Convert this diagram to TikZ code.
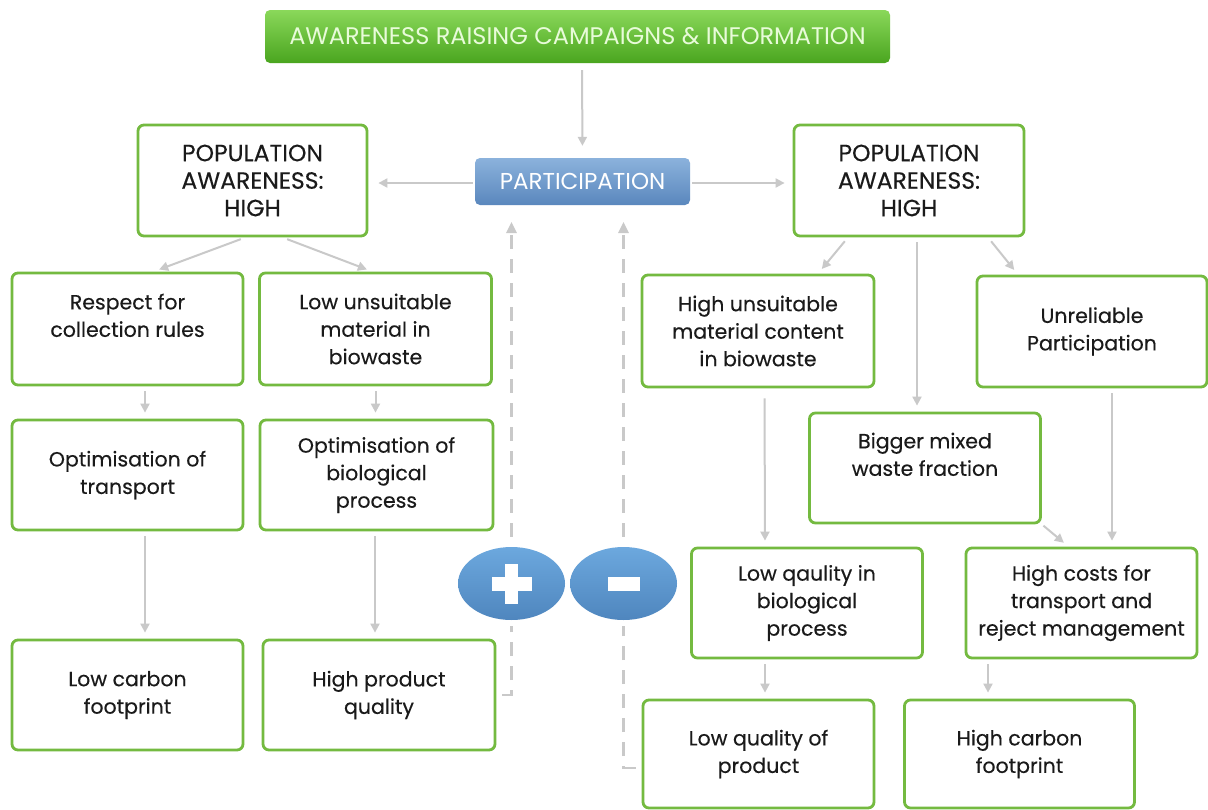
\documentclass[tikz,border=0pt]{standalone}
\usepackage{fontspec}
\setmainfont{Poppins}
\newfontfamily\bodyfont{Poppins}[FakeBold=0.3]
\usetikzlibrary{shapes.geometric,arrows.meta}
\definecolor{boxgreen}{HTML}{74BA40}
\definecolor{arrowgray}{HTML}{C9C9C9}
\definecolor{textdark}{HTML}{1A1A1A}
\definecolor{bartop}{HTML}{8AD85A}
\definecolor{barbot}{HTML}{4AA51F}
\definecolor{bartext}{HTML}{E8FBD9}
\definecolor{parttop}{HTML}{8BB2DC}
\definecolor{partbot}{HTML}{5A87BD}
\definecolor{elltop}{HTML}{6CA8DE}
\definecolor{ellbot}{HTML}{4F86BE}
\tikzset{
  box/.style={draw=boxgreen, line width=2.8pt, rounded corners=6pt, fill=white,
    minimum width=231pt, minimum height=110pt, align=center, inner sep=0pt,
    text=textdark, font=\bodyfont\fontsize{20.5}{27.5}\selectfont},
  popbox/.style={box, font=\bodyfont\fontsize{23.5}{27.5}\selectfont},
  topbar/.style={rounded corners=5pt, top color=bartop, bottom color=barbot,
    minimum width=625pt, minimum height=53pt, inner sep=0pt, text=bartext,
    font=\fontsize{24}{28}\selectfont},
  partbox/.style={rounded corners=5pt, top color=parttop, bottom color=partbot,
    minimum width=215pt, minimum height=47pt, inner sep=0pt, text=white,
    font=\fontsize{23}{27}\selectfont},
  pm/.style={ellipse, minimum width=107pt, minimum height=73pt, inner sep=0pt,
    top color=elltop, bottom color=ellbot},
  arr/.style={draw=arrowgray, line width=2pt, -{Triangle[length=9pt,width=9pt]},
    shorten <=5pt, shorten >=6pt},
  dashline/.style={draw=arrowgray, line width=2.5pt, dash pattern=on 14pt off 10pt},
}
\begin{document}
\begin{tikzpicture}[x=1pt,y=-1pt]
\useasboundingbox[fill=white] (0,0) rectangle (1208,809);

\node[topbar] (top) at (577.5,36.5) {AWARENESS RAISING CAMPAIGNS \& INFORMATION};
\node[partbox] (part) at (582.5,181.5) {PARTICIPATION};

\node[popbox, minimum width=229pt, minimum height=111pt] (popL) at (252.5,180.5) {POPULATION\\AWARENESS:\\HIGH};
\node[popbox, minimum width=230pt, minimum height=111pt] (popR) at (909,180.5) {POPULATION\\AWARENESS:\\HIGH};

\node[box, minimum height=112pt] (respect) at (127.5,329) {Respect for\\collection rules\\\mbox{}};
\node[box, minimum width=232pt, minimum height=112pt] (lowuns) at (375.5,329) {Low unsuitable\\material in\\biowaste};
\node[box] (opttr) at (127.5,475) {Optimisation of\\transport};
\node[box, minimum width=233pt] (optbio) at (376.5,475) {Optimisation of\\biological\\process};
\node[box] (lowcarb) at (127.5,695) {Low carbon\\footprint};
\node[box, minimum width=232pt] (hpq) at (379,695) {High product\\quality};

\node[box, minimum width=232pt, minimum height=112pt] (highuns) at (758,331) {High unsuitable\\material content\\in biowaste};
\node[box, minimum width=230pt, minimum height=111pt] (unrel) at (1092,331.5) {Unreliable\\Participation};
\node[box] (bigger) at (925,468) {Bigger mixed\\waste fraction\\\mbox{}};
\node[box, minimum width=231pt] (lowqbio) at (807,603) {Low qaulity in\\biological\\process};
\node[box] (highcost) at (1081.5,603) {High costs for\\transport and\\reject management};
\node[box, minimum height=108pt] (lowqprod) at (758.5,754) {Low quality of\\product};
\node[box, minimum width=230pt, minimum height=108pt] (highcarb) at (1019.5,754) {High carbon\\footprint};

\node[pm] (plus) at (511.5,583.5) {};
\node[pm] (minus) at (623.5,583.5) {};
\fill[white] ([shift={(-20,-7)}]plus.center) rectangle ([shift={(20,7)}]plus.center);
\fill[white] ([shift={(-6.5,-20)}]plus.center) rectangle ([shift={(6.5,20)}]plus.center);
\fill[white] ([shift={(-16,-7)}]minus.center) rectangle ([shift={(16,7)}]minus.center);

% solid connectors
\draw[arr, shorten <=7pt, shorten >=12pt] ([xshift=4.5pt]top.south) -- (part.north);
\draw[arr, shorten <=2pt, shorten >=10pt] ([yshift=-1.5pt]part.west) -- ([yshift=-2.5pt]popL.east);
\draw[arr, shorten <=2pt, shorten >=8pt] ([yshift=-1.5pt]part.east) -- ([yshift=-2.5pt]popR.west);

\draw[arr] ([xshift=-7pt]popL.south) -- ([xshift=26pt]respect.north);
\draw[arr] ([xshift=30pt]popL.south) -- ([xshift=-3pt]lowuns.north);
\draw[arr] ([xshift=17.5pt]respect.south) -- ([xshift=17.5pt]opttr.north);
\draw[arr] (lowuns.south) -- ([xshift=-1pt]optbio.north);
\draw[arr] ([xshift=17.5pt]opttr.south) -- ([xshift=17.5pt]lowcarb.north);
\draw[arr] ([xshift=-1.5pt]optbio.south) -- ([xshift=-4pt]hpq.north);

\draw[arr] ([xshift=-61pt]popR.south) -- ([xshift=60pt]highuns.north);
\draw[arr] ([xshift=8pt]popR.south) -- ([xshift=-8pt]bigger.north);
\draw[arr] ([xshift=79pt]popR.south) -- ([xshift=-74pt]unrel.north);
\draw[arr, shorten <=10pt] ([xshift=6.5pt]highuns.south) -- ([xshift=-42pt]lowqbio.north);
\draw[arr] ([xshift=20pt]unrel.south) -- ([xshift=30.5pt]highcost.north);
\draw[arr, shorten <=2pt] (bigger.south east) -- ([xshift=-13pt]highcost.north);
\draw[arr] ([xshift=-93.5pt]highcost.south) -- ([xshift=-31.5pt]highcarb.north);
\draw[arr] ([xshift=-42pt]lowqbio.south) -- ([xshift=6.5pt]lowqprod.north);

% dashed feedback connectors
\coordinate (pa) at (511.5,222);
\coordinate (ma) at (623.5,222);
\draw[dashline, shorten <=6pt, shorten >=6pt] (hpq.east) -| (plus.south);
\draw[dashline, shorten <=10pt, -{Triangle[length=11pt,width=10pt]}] (plus.north) -- (pa);
\draw[dashline, shorten <=6pt, shorten >=6pt] ([yshift=-14pt]lowqprod.west) -| (minus.south);
\draw[dashline, shorten <=10pt, -{Triangle[length=11pt,width=10pt]}] (minus.north) -- (ma);
\end{tikzpicture}
\end{document}
